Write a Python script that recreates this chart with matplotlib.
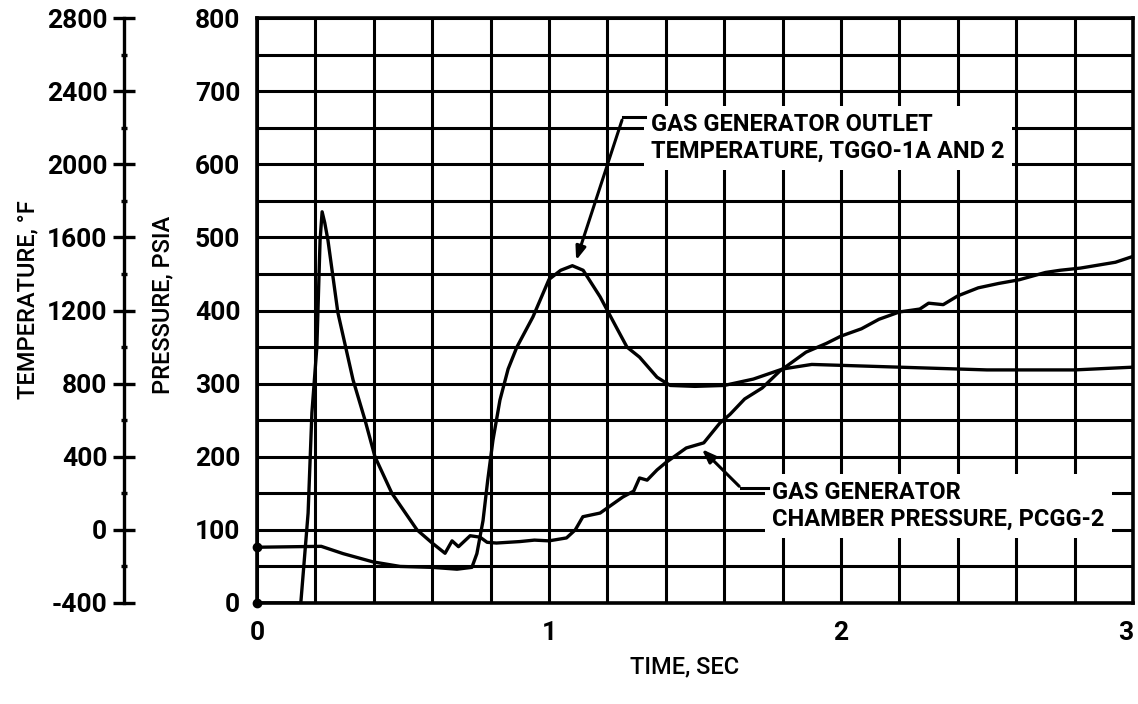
import matplotlib
matplotlib.use('Agg')
import matplotlib.pyplot as plt
from matplotlib.ticker import MultipleLocator
import numpy as np

# gas generator chamber pressure, PCGG-2 (psia)
press_time = [0.00, 0.15, 0.16, 0.175, 0.188, 0.205, 0.216, 0.223, 0.232, 0.243,
              0.277, 0.329, 0.37, 0.404, 0.462, 0.548, 0.60, 0.644, 0.668, 0.69,
              0.73, 0.764, 0.788, 0.82, 0.90, 0.95, 1.00, 1.06, 1.09, 1.116,
              1.175, 1.253, 1.29, 1.31, 1.336, 1.37, 1.40, 1.47, 1.53, 1.585,
              1.62, 1.67, 1.73, 1.79, 1.88, 1.95, 2.00, 2.07, 2.13, 2.20,
              2.27, 2.30, 2.35, 2.40, 2.47, 2.54, 2.61, 2.70, 2.75, 2.82,
              2.88, 2.94, 3.00]
pressure = [0, 0, 49, 123, 260, 350, 496, 535, 520, 496,
            397, 305, 250, 200, 150, 100, 82, 68, 85, 77,
            92, 90, 83, 82, 84, 86, 85, 89, 100, 118,
            123, 145, 153, 171, 168, 182, 192, 212, 219, 246,
            258, 279, 294, 317, 343, 355, 365, 375, 388, 398,
            402, 410, 408, 420, 431, 437, 442, 452, 455, 458,
            462, 466, 474]

# gas generator outlet temperature, TGGO-1A and 2 (deg F)
temp_time = [0.00, 0.22, 0.295, 0.397, 0.49, 0.60, 0.685, 0.736, 0.753, 0.774,
             0.79, 0.808, 0.832, 0.86, 0.89, 0.945, 1.00, 1.04, 1.08, 1.117,
             1.175, 1.23, 1.267, 1.31, 1.37, 1.415, 1.50, 1.60, 1.70, 1.80,
             1.90, 2.00, 2.20, 2.50, 2.80, 3.00]
temperature = [-95, -90, -130, -175, -200, -205, -215, -205, -130, 50,
               270, 490, 710, 880, 1000, 1165, 1370, 1420, 1445, 1420,
               1275, 1110, 1000, 945, 835, 790, 785, 790, 825, 880,
               905, 900, 890, 875, 875, 890]

time_ticks = [0, 1, 2, 3]

plt.rcParams['axes.unicode_minus'] = False
fnt = ['Roboto', 'DejaVu Sans']

fig = plt.figure(figsize=(11.38, 7.04), dpi=100)
ax = fig.add_axes([257/1138, 1 - 603/704, 876/1138, 585/704])

ax.set_xlim(0, 3)
ax.set_ylim(0, 800)
ax.set_xticks(time_ticks)
ax.xaxis.set_minor_locator(MultipleLocator(0.2))
ax.yaxis.set_major_locator(MultipleLocator(100))
ax.yaxis.set_minor_locator(MultipleLocator(50))
ax.grid(which='both', color='black', lw=2.2)
ax.tick_params(which='both', length=0)
ax.tick_params(axis='x', pad=13)
ax.tick_params(axis='y', pad=12)
for s in ax.spines.values():
    s.set_linewidth(2.6)
for lab in ax.get_xticklabels() + ax.get_yticklabels():
    lab.set_family(fnt)
    lab.set_fontweight('bold')
    lab.set_fontsize(19)
# last time label sits at the right edge of the page
ax.xaxis.get_major_ticks()[-1].label1.set_horizontalalignment('right')

ax.plot(press_time, pressure, color='black', lw=2.4, zorder=4)
ax.plot([0], [0], 'o', color='black', ms=6, zorder=4, clip_on=False)

# temperature scale on a second spine further left
ax2 = ax.twinx()
ax2.set_ylim(-400, 2800)
ax2.spines['left'].set_position(('axes', (124 - 257) / 876))
ax2.spines['left'].set_linewidth(2.4)
for side in ['right', 'top', 'bottom']:
    ax2.spines[side].set_visible(False)
ax2.yaxis.set_ticks_position('left')
ax2.yaxis.set_major_locator(MultipleLocator(400))
ax2.yaxis.set_minor_locator(MultipleLocator(200))
ax2.tick_params(which='major', direction='inout', length=16, width=2.4, pad=4)
ax2.tick_params(which='minor', direction='inout', length=5, width=2.4)
for lab in ax2.get_yticklabels():
    lab.set_family(fnt)
    lab.set_fontweight('bold')
    lab.set_fontsize(19)

ax2.plot(temp_time, temperature, color='black', lw=2.4)
ax2.plot([0], [-95], 'o', color='black', ms=6, clip_on=False)

# annotations
box = dict(boxstyle='square,pad=0.3', fc='white', ec='none')
ax.text(1.35, 636, 'GAS GENERATOR OUTLET\nTEMPERATURE, TGGO-1A AND 2',
        family=fnt, fontweight='bold', fontsize=17, ha='left', va='center',
        linespacing=1.2, bbox=box, zorder=5)
ax.plot([1.253, 1.33], [664, 664], color='black', lw=2.2, zorder=6)
ax.annotate('', xy=(1.09, 465), xytext=(1.253, 664),
            arrowprops=dict(arrowstyle='-|>,head_length=0.8,head_width=0.3',
                            color='black', lw=2.2), zorder=6)

ax.text(1.764, 133, 'GAS GENERATOR\nCHAMBER PRESSURE, PCGG-2',
        family=fnt, fontweight='bold', fontsize=17, ha='left', va='center',
        linespacing=1.2, bbox=box, zorder=5)
ax.plot([1.658, 1.75], [157, 157], color='black', lw=2.2, zorder=6)
ax.annotate('', xy=(1.517, 213), xytext=(1.658, 157),
            arrowprops=dict(arrowstyle='-|>,head_length=0.8,head_width=0.3',
                            color='black', lw=2.2), zorder=6)

fig.text(28/1138, 1 - 300/704, 'TEMPERATURE, °F', rotation=90, family=fnt,
         fontsize=17, fontweight=500, ha='center', va='center')
fig.text(163/1138, 1 - 305/704, 'PRESSURE, PSIA', rotation=90, family=fnt,
         fontsize=17, fontweight=500, ha='center', va='center')
fig.text(685/1138, 1 - 667/704, 'TIME, SEC', family=fnt,
         fontsize=17, fontweight=500, ha='center', va='center')

fig.savefig('out.png', dpi=100)
